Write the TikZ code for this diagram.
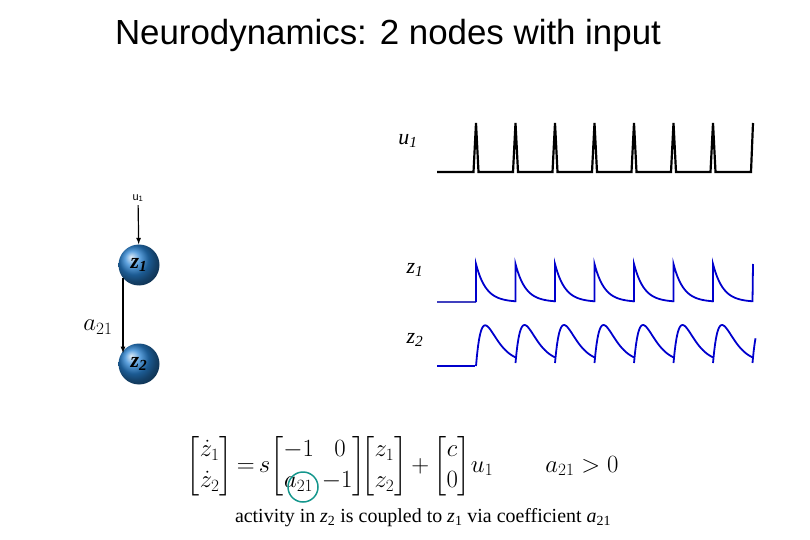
\documentclass[tikz,border=0pt]{standalone}
\usepackage{amsmath}
\usepackage{fontspec}
\setmainfont{Liberation Serif}
\newfontfamily\arial{Liberation Sans}
\begin{document}
\begin{tikzpicture}[x=1bp,y=-1bp,
  ball/.style={circle,minimum size=41bp,inner sep=0pt,shading=ball,ball color={rgb,255:red,40;green,130;blue,210}},
  spike/.style={line width=2.2pt,black,line join=miter},
  wave/.style={line width=1.8pt,blue!80!black},
  arr/.style={line width=1.2pt,-latex},
  lab/.style={font=\fontsize{22}{24}\selectfont\itshape}]
\useasboundingbox (0,0) rectangle (810,540);
\node[font=\arial\fontsize{35}{38}\selectfont] (title) at (388,35) {Neurodynamics: 2 nodes with input};
% network
\node[ball] (z1) at (139,265) {\fontsize{22}{22}\selectfont\bfseries\itshape z\textsubscript{1}};
\node[ball] (z2) at (139,364) {\fontsize{22}{22}\selectfont\bfseries\itshape z\textsubscript{2}};
\node[font=\arial\fontsize{11}{12}\selectfont] (u1n) at (138,198) {u\textsubscript{1}};
\draw[arr] (u1n) -- (z1);
\coordinate (a1) at (123,278);
\coordinate (a2) at (123,353);
\draw[arr] (a1) -- (a2);
\node[font=\fontsize{24}{24}\selectfont] (a21) at (98,327) {$a_{21}$};
% labels
\node[lab] (lu) at (408,141) {u\textsubscript{1}};
\node[lab] (lz1) at (415,270) {z\textsubscript{1}};
\node[lab] (lz2) at (415,340) {z\textsubscript{2}};
% u1 spikes
\draw[spike] (437,172) -- (473.5,172)
 \foreach \i in {0,...,6}{ -- ({476+39.5*\i-2.5},172) -- ({476+39.5*\i},123) -- ({476+39.5*\i+2.5},172) -- ({476+39.5*\i+37},172)} -- (751,172) -- (753,123);
% z1
\draw[wave,blue!50!gray] (437,302) -- (476,302);
\foreach \i in {0,...,6}{
  \draw[wave] ({476+39.5*\i},302) -- plot[domain=0:39.5,samples=40] ({476+39.5*\i+\x},{302-38*exp(-\x/10)});
}
\draw[wave] (752.5,302) -- (753,264);
% z2
\draw[wave] (437,366) -- (475,366);
\foreach \i in {0,...,6}{
  \draw[wave] plot[domain=0:39.5,samples=40] ({476+39.5*\i+\x},{366-3*(1-exp(-(39.5*\i+\x)/4))-38*(\x/9)*exp(1-\x/9)});
}
\draw[wave] plot[domain=0:3,samples=6] ({752.5+\x},{366-3-38*(\x/9)*exp(1-\x/9)});
% equation
\node[font=\fontsize{23}{28}\selectfont,inner sep=0pt] (eq) at (340,466) {$\arraycolsep=4pt\def\arraystretch{1.1}\begin{bmatrix}\dot z_1\\ \dot z_2\end{bmatrix}
 {=}\, s\!\begin{bmatrix}-1 & \ 0\\ a_{21} & -1\end{bmatrix}\!\!\begin{bmatrix}z_1\\ z_2\end{bmatrix}
 {+} \begin{bmatrix}c\\ 0\end{bmatrix}\!u_1$};
\node[font=\fontsize{24}{26}\selectfont] (cond) at (582,466) {$a_{21}>0$};
\draw[line width=1.5pt,color={rgb,255:red,20;green,150;blue,140}] (303,487) circle (15);
\node[font=\fontsize{20}{22}\selectfont] (cap) at (423,518) {activity in \textit{z}\textsubscript{2} is coupled to \textit{z}\textsubscript{1} via coefficient \textit{a}\textsubscript{21}};
\end{tikzpicture}
\end{document}
